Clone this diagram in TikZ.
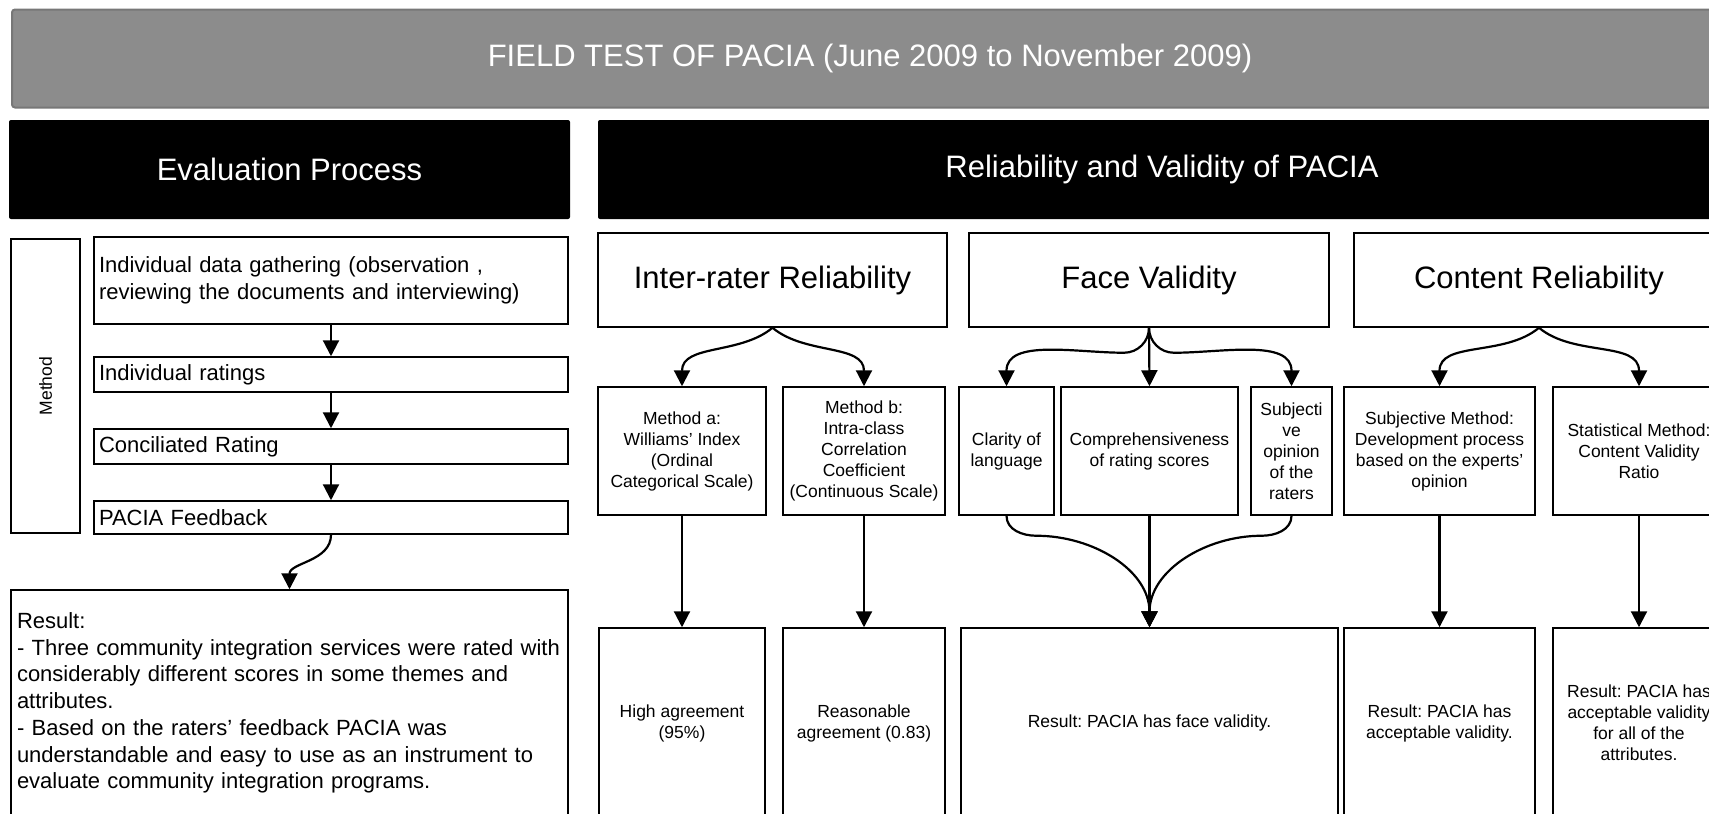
\documentclass[tikz,border=0pt]{standalone}
\usepackage{fontspec}
\setmainfont{Liberation Sans}
\usetikzlibrary{arrows.meta}
\definecolor{fieldgrey}{HTML}{8C8C8C}
\definecolor{fieldedge}{HTML}{777777}
\frenchspacing

\begin{document}
\begin{tikzpicture}[x=1pt,y=1pt]
			\tikzstyle{every node}+=[inner sep=0pt]
			\tikzstyle{banner}=[draw=fieldedge,line width=2pt,fill=fieldgrey,rounded corners=3pt,text=white,font=\fontsize{31}{37}\selectfont]
			\tikzstyle{header}=[fill=black,rounded corners=2pt,text=white,font=\fontsize{31}{37}\selectfont]
			\tikzstyle{stepbox}=[draw=black,line width=1.5pt,align=left,inner xsep=5pt,font=\fontsize{22}{26.7}\selectfont]
			\tikzstyle{topic}=[draw=black,line width=1.5pt,align=center,minimum height=94pt,font=\fontsize{31}{37}\selectfont]
			\tikzstyle{branch}=[draw=black,line width=1.5pt,align=center,minimum height=128pt,font=\fontsize{17.5}{21}\selectfont]
			\tikzstyle{outcome}=[draw=black,line width=1.5pt,align=center,minimum height=190pt,font=\fontsize{17.5}{21}\selectfont]
			\tikzstyle{arr}=[black,line width=2.2pt,-{Triangle[length=16pt,width=16pt]}]
			\useasboundingbox (0,0) rectangle (1709,-814);
			\clip (0,0) rectangle (1709,-814);
			\node[banner,minimum width=1716pt,minimum height=98pt] (field) at (870,-58.5) {FIELD TEST OF PACIA (June 2009 to November 2009)};
			\node[header,minimum width=561pt,minimum height=99pt] (evalhead) at (289.5,-169.5) {Evaluation Process};
			\node[header,minimum width=1128pt,minimum height=99pt] (relhead) at (1162,-169.5) {Reliability and Validity of PACIA};
			\node[draw=black,line width=1.5pt,rotate=90,minimum width=294pt,minimum height=69pt,font=\fontsize{17.5}{21}\selectfont] (method) at (45.5,-386) {Method};
			\node[stepbox,text width=464pt,minimum height=87pt] (gather) at (331,-280.5) {Individual data gathering (observation ,\\reviewing the documents and interviewing)};
			\node[stepbox,text width=464pt,minimum height=35pt] (rate) at (331,-374.5) {Individual ratings};
			\node[stepbox,text width=464pt,minimum height=35pt] (concil) at (331,-446.5) {Conciliated Rating};
			\node[stepbox,text width=464pt,minimum height=33pt] (feedback) at (331,-517.5) {PACIA Feedback};
			\node[stepbox,text width=545pt,inner xsep=6pt,minimum height=226pt] (evalres) at (289.5,-703) {Result:\\- Three community integration services were rated with\\considerably different scores in some themes and\\attributes.\\- Based on the raters’ feedback PACIA was\\understandable and easy to use as an instrument to\\evaluate community integration programs.};
			\node[topic,minimum width=349pt] (inter) at (772.5,-280) {Inter-rater Reliability};
			\node[topic,minimum width=360pt] (face) at (1149,-280) {Face Validity};
			\node[topic,minimum width=370pt] (content) at (1539,-280) {Content Reliability};
			\node[branch,minimum width=168pt] (metha) at (682,-451) {Method a:\\Williams’ Index\\(Ordinal\\Categorical Scale)};
			\node[branch,minimum width=162pt] (methb) at (864,-451) {Method b:\\Intra-class\\Correlation\\Coefficient\\(Continuous Scale)};
			\node[branch,minimum width=95pt] (clarity) at (1006.5,-451) {Clarity of\\language};
			\node[branch,minimum width=177pt] (compre) at (1149.5,-451) {Comprehensiveness\\of rating scores};
			\node[branch,minimum width=81pt] (opinion) at (1291.5,-451) {Subjecti\\ve\\opinion\\of the\\raters};
			\node[branch,minimum width=191pt] (submeth) at (1439.5,-451) {Subjective Method:\\Development process\\based on the experts’\\opinion};
			\node[branch,minimum width=172pt] (statmeth) at (1639,-451) {Statistical Method:\\Content Validity\\Ratio};
			\node[outcome,minimum width=166pt] (high) at (682,-723) {High agreement\\(95\%)};
			\node[outcome,minimum width=162pt] (reason) at (864,-723) {Reasonable\\agreement (0.83)};
			\node[outcome,minimum width=377pt] (faceres) at (1149.5,-723) {Result: PACIA has face validity.};
			\node[outcome,minimum width=191pt] (subres) at (1439.5,-723) {Result: PACIA has\\acceptable validity.};
			\node[outcome,minimum width=172pt] (statres) at (1639,-723) {Result: PACIA has\\acceptable validity\\for all of the\\attributes.};
			\draw[arr] (gather) -- (rate);
			\draw[arr] (rate) -- (concil);
			\draw[arr] (concil) -- (feedback);
			\draw[arr] (feedback.south) to[out=-90,in=90] (evalres.north);
			\draw[arr] (inter.south) to[out=-140,in=90] (metha.north);
			\draw[arr] (inter.south) to[out=-40,in=90] (methb.north);
			\draw[arr] (face.south) to[out=-90,in=0] ++(-25,-25) to[out=180,in=90] (clarity.north);
			\draw[arr] (face.south) -- (compre.north);
			\draw[arr] (face.south) to[out=-90,in=180] ++(25,-25) to[out=0,in=90] (opinion.north);
			\draw[arr] (content.south) to[out=-140,in=90] (submeth.north);
			\draw[arr] (content.south) to[out=-40,in=90] (statmeth.north);
			\draw[arr] (metha) -- (high);
			\draw[arr] (methb) -- (reason);
			\draw[arr] (clarity.south) to[out=-90,in=180] ++(30,-20) to[out=0,in=90] (faceres.north);
			\draw[arr] (compre) -- (faceres);
			\draw[arr] (opinion.south) to[out=-90,in=0] ++(-30,-20) to[out=180,in=90] (faceres.north);
			\draw[arr] (submeth) -- (subres);
			\draw[arr] (statmeth) -- (statres);
\end{tikzpicture}
\end{document}
